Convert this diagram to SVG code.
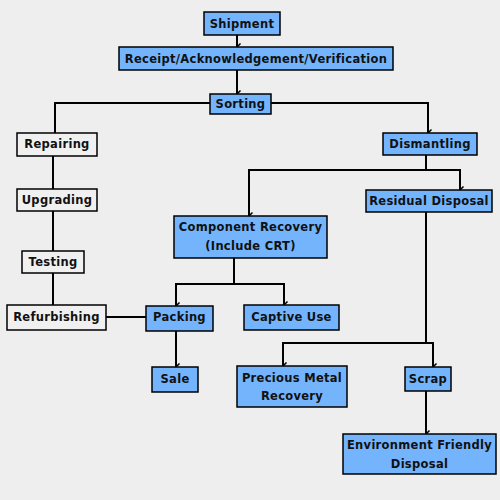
<svg xmlns="http://www.w3.org/2000/svg" width="500" height="500" viewBox="0 0 500 500">
<style>
.b rect{fill:#74b4fc;stroke:#000;stroke-width:1.5}
.w rect{fill:#f0f0f0;stroke:#000;stroke-width:1.5}
text{font-family:"DejaVu Sans",sans-serif;font-weight:bold;font-size:11.5px;fill:#111;text-anchor:middle;letter-spacing:0.3px}
.c path{fill:none;stroke:#000;stroke-width:2}
</style>
<defs>
<marker id="a" markerUnits="userSpaceOnUse" markerWidth="10" markerHeight="10" refX="5" refY="7" orient="auto-start-reverse" viewBox="0 0 10 10">
<path d="M1.5,3.5 L5,7 L8.5,3.5" fill="none" stroke="#000" stroke-width="1.5"/>
</marker>
</defs>
<rect width="500" height="500" fill="#eeeeee"/>
<g class="c">
<path d="M237,35 V47" marker-end="url(#a)"/>
<path d="M237,70 V94" marker-end="url(#a)"/>
<path d="M210,103 H55 V133"/>
<path d="M271,103 H428 V133" marker-end="url(#a)"/>
<path d="M53,156 V189"/>
<path d="M53,211 V251"/>
<path d="M53,273 V305"/>
<path d="M106,317 H146"/>
<path d="M426,155 V170 H249 V216" marker-end="url(#a)"/>
<path d="M426,170 H460 V190" marker-end="url(#a)"/>
<path d="M234,258 V284 H176 V306" marker-end="url(#a)"/>
<path d="M234,284 H284 V305" marker-end="url(#a)"/>
<path d="M176,331 V367" marker-end="url(#a)"/>
<path d="M426,212 V343 H283 V366" marker-end="url(#a)"/>
<path d="M426,343 H433 V367" marker-end="url(#a)"/>
<path d="M426,391 V434" marker-end="url(#a)"/>
</g>
<g id="shipment" class="b"><rect x="204" y="12" width="76" height="23"/><text x="242" y="28">Shipment</text></g>
<g id="receipt" class="b"><rect x="119" y="47" width="274" height="23"/><text x="256" y="63">Receipt/Acknowledgement/Verification</text></g>
<g id="sorting" class="b"><rect x="210" y="94" width="61" height="20"/><text x="240.5" y="108">Sorting</text></g>
<g id="repairing" class="w"><rect x="17" y="133" width="80" height="23"/><text x="57" y="148">Repairing</text></g>
<g id="upgrading" class="w"><rect x="17" y="189" width="80" height="22"/><text x="57" y="204">Upgrading</text></g>
<g id="testing" class="w"><rect x="22" y="251" width="62" height="22"/><text x="53" y="266">Testing</text></g>
<g id="refurbishing" class="w"><rect x="7" y="305" width="99" height="25"/><text x="56.5" y="321">Refurbishing</text></g>
<g id="dismantling" class="b"><rect x="383" y="133" width="94" height="22"/><text x="430" y="148">Dismantling</text></g>
<g id="residual" class="b"><rect x="366" y="190" width="126" height="22"/><text x="429" y="205">Residual Disposal</text></g>
<g id="component" class="b"><rect x="174" y="216" width="153" height="42"/><text x="250.5" y="231">Component Recovery</text><text x="250.5" y="250">(Include CRT)</text></g>
<g id="packing" class="b"><rect x="146" y="306" width="67" height="25"/><text x="179.5" y="321">Packing</text></g>
<g id="captive" class="b"><rect x="244" y="305" width="95" height="25"/><text x="291.5" y="321">Captive Use</text></g>
<g id="sale" class="b"><rect x="152" y="367" width="46" height="25"/><text x="175" y="383">Sale</text></g>
<g id="precious" class="b"><rect x="237" y="366" width="110" height="41"/><text x="292" y="382">Precious Metal</text><text x="292" y="400">Recovery</text></g>
<g id="scrap" class="b"><rect x="405" y="367" width="46" height="24"/><text x="428" y="383">Scrap</text></g>
<g id="efd" class="b"><rect x="343" y="434" width="153" height="40"/><text x="419.5" y="449">Environment Friendly</text><text x="419.5" y="468">Disposal</text></g>
</svg>
